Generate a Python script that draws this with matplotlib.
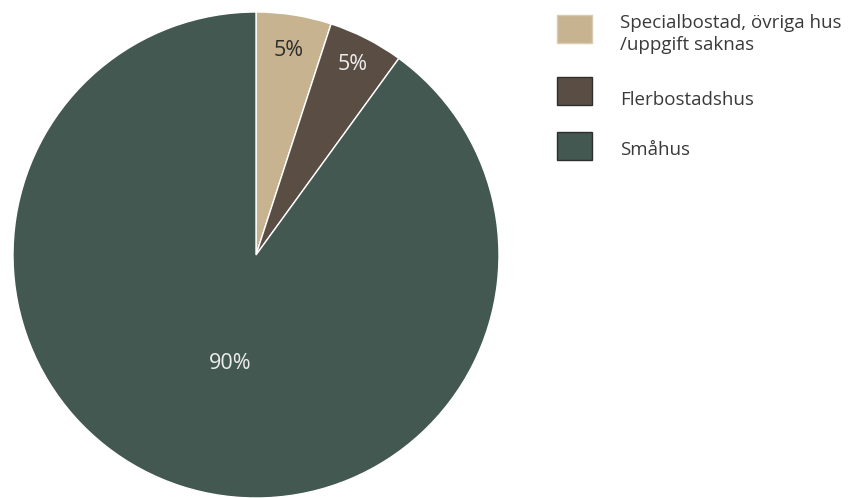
import matplotlib
matplotlib.use('Agg')
import numpy as np
from matplotlib import pyplot as plt
from matplotlib.patches import Rectangle

labels = ['Specialbostad, övriga hus\n/uppgift saknas', 'Flerbostadshus', 'Småhus']
values = [5, 5, 90]
colors = ['#C7B38F', '#5A4E44', '#435850']
text_colors = ['#2E2E2E', '#EDEDED', '#EDEDED']
pct_dist = [0.85, 0.88, 0.47]

plt.rcParams['font.family'] = ['Open Sans', 'DejaVu Sans']

W, H = 850, 498
fig = plt.figure(figsize=(W / 100, H / 100), dpi=100)

# pie axes: center (256, 255) px, radius 243 px
cx, cy, r = 256, 255, 243
ax = fig.add_axes([(cx - r) / W, (H - cy - r) / H, 2 * r / W, 2 * r / H])
wedges, _ = ax.pie(values, colors=colors, startangle=90, counterclock=False,
                   wedgeprops=dict(edgecolor='white', linewidth=1), radius=1)
ax.set_xlim(-1.0, 1.0)
ax.set_ylim(-1.0, 1.0)
ax.set_aspect('equal')
ax.axis('off')

for w, v, tc, d in zip(wedges, values, text_colors, pct_dist):
    ang = np.deg2rad((w.theta1 + w.theta2) / 2)
    ax.text(d * np.cos(ang) + (0.04 if v == 90 else 0), d * np.sin(ang), f'{v}%',
            color=tc, fontsize=15.5, ha='center', va='center')

# legend
box_y = [15, 77, 132]
text_y = [34, 100, 150]
for lab, col, by, ty in zip(labels, colors, box_y, text_y):
    edge = '#D8CBB0' if col == colors[0] else '#2E2E2E'
    fig.patches.append(Rectangle((557 / W, 1 - (by + 28) / H), 35 / W, 28 / H,
                                 transform=fig.transFigure, facecolor=col,
                                 edgecolor=edge, linewidth=1))
    fig.text(620 / W, 1 - ty / H, lab, fontsize=13.5, color='#3A3A3A',
             ha='left', va='center', linespacing=1.25)

fig.savefig('out.png', dpi=100)
